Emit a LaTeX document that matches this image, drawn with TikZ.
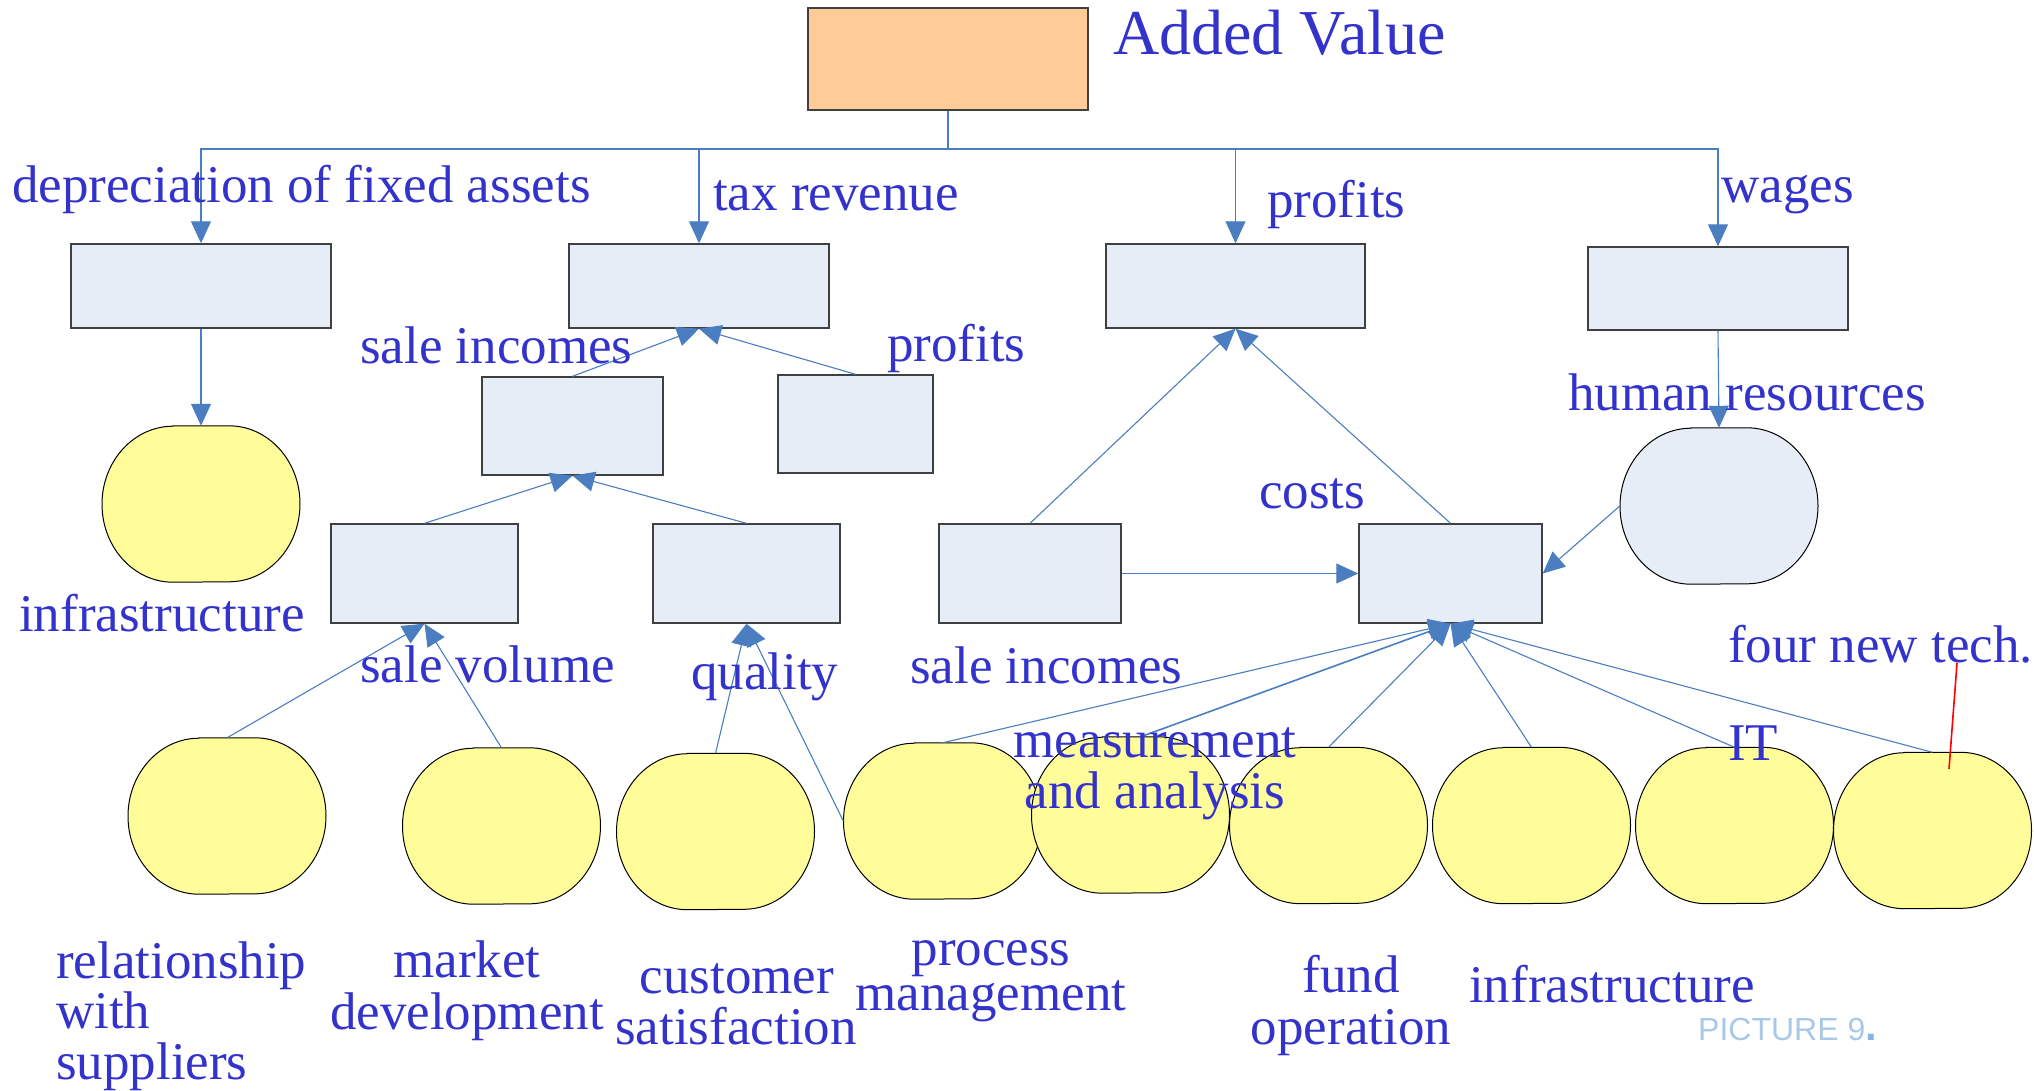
\documentclass[tikz,border=0pt]{standalone}
\usepackage{fontspec}
\setmainfont{Liberation Serif}
\newfontfamily\picfont{Liberation Sans}
\usetikzlibrary{arrows.meta}
\definecolor{tcol}{RGB}{51,51,204}
\definecolor{lnc}{RGB}{74,126,192}
\definecolor{boxc}{RGB}{230,237,247}
\definecolor{orangec}{RGB}{255,204,153}
\definecolor{yelc}{RGB}{255,253,153}
\definecolor{picc}{RGB}{169,200,232}
\definecolor{picd}{RGB}{140,180,226}
\definecolor{edgec}{RGB}{64,64,64}
\newcommand\myblob[4]{%
  \node[blobnode] (#1) at (#2,#3) {};
  \path[blobdraw,fill=#4] ([xshift=-28pt]#1.north) -- ([xshift=28pt]#1.north)
    arc[start angle=90,end angle=-90,x radius=71pt,y radius=78pt]
    -- ([xshift=-28pt]#1.south)
    arc[start angle=270,end angle=90,x radius=71pt,y radius=78pt] -- cycle;
}
\begin{document}
\begin{tikzpicture}[x=1pt,y=-1pt,
  boxnode/.style={draw=edgec,line width=1.4pt,fill=boxc,inner sep=0pt},
  topnode/.style={draw=edgec,line width=1.4pt,fill=orangec,inner sep=0pt},
  blobnode/.style={inner sep=0pt,minimum width=198pt,minimum height=156pt},
  blobdraw/.style={draw=black,line width=1pt},
  conn/.style={draw=lnc,line width=1.1pt},
  arr/.style={conn,-{Triangle[length=22pt,width=20pt,fill=lnc]}},
  lbl/.style={text=tcol,font=\fontsize{53}{53}\selectfont,inner sep=0pt,anchor=base west},
  clbl/.style={lbl,anchor=base}]
\path[use as bounding box] (0,0) rectangle (2034,1090);

% boxes
\node[topnode,minimum width=280pt,minimum height=102pt] (av) at (948,59) {};
\node[boxnode,minimum width=260pt,minimum height=84pt] (b1) at (201,286) {};
\node[boxnode,minimum width=260pt,minimum height=84pt] (b2) at (699,286) {};
\node[boxnode,minimum width=259pt,minimum height=84pt] (b8) at (1235.5,286) {};
\node[boxnode,minimum width=260pt,minimum height=83pt] (b9) at (1718,288.5) {};
\node[boxnode,minimum width=181pt,minimum height=98pt] (b3) at (572.5,426) {};
\node[boxnode,minimum width=155pt,minimum height=98pt] (b4) at (855.5,424) {};
\node[boxnode,minimum width=187pt,minimum height=99pt] (b5) at (424.5,573.5) {};
\node[boxnode,minimum width=187pt,minimum height=99pt] (b6) at (746.5,573.5) {};
\node[boxnode,minimum width=182pt,minimum height=99pt] (b7) at (1030,573.5) {};
\node[boxnode,minimum width=183pt,minimum height=99pt] (b10) at (1450.5,573.5) {};

% blobs
\myblob{inf1}{201}{504}{yelc}
\myblob{hr}{1719}{506}{boxc}
\myblob{e1}{227}{816}{yelc}
\myblob{e2}{501.5}{826}{yelc}
\myblob{e3}{715.5}{831.5}{yelc}
\myblob{e4}{942.5}{821}{yelc}
\myblob{e5}{1130.5}{815}{yelc}
\myblob{e6}{1328.5}{825.5}{yelc}
\myblob{e7}{1531.5}{825.5}{yelc}
\myblob{e8}{1734.5}{825.5}{yelc}
\myblob{e9}{1932.5}{830.5}{yelc}

% connectors
\coordinate (j) at (948,149);
\draw[conn] (av.south) -- (j);
\draw[arr] (j) -| (b1.north);
\draw[arr] (j) -| (b2.north);
\draw[arr] (j) -| (b8.north);
\draw[arr] (j) -| (b9.north);
\draw[arr] (b1.south) -- (inf1.north);
\draw[arr] (b9.south) -- (hr.north);
\draw[arr] (b3.north) -- (b2.south);
\draw[arr] (b4.north) -- (b2.south);
\draw[arr] (b5.north) -- (b3.south);
\draw[arr] (b6.north) -- (b3.south);
\draw[arr] (e1.north) -- (b5.south);
\draw[arr] (e2.north) -- (b5.south);
\draw[arr] (e3.north) -- (b6.south);
\draw[arr] (e4.west) -- (b6.south);
\draw[arr] (b7.north) -- (b8.south);
\draw[arr] (b10.north) -- (b8.south);
\draw[arr] (b7.east) -- (b10.west);
\draw[arr] (hr.west) -- (b10.east);
\draw[arr] (e4.north) -- (b10.south);
\draw[arr,line width=1.6pt] ([xshift=10pt]e5.north) -- (b10.south);
\draw[arr] (e6.north) -- (b10.south);
\draw[arr] (e7.north) -- (b10.south);
\draw[arr] (e8.north) -- (b10.south);
\draw[arr] (e9.north) -- (b10.south);
\coordinate (r1) at (1957,663);
\coordinate (r2) at (1949,769);
\draw[red,line width=1.6pt] (r1) -- (r2);

% labels
\node[lbl,font=\fontsize{64}{64}\selectfont] (tav) at (1113,54) {Added Value};
\node[lbl] (t1) at (12,202) {depreciation of fixed assets};
\node[lbl] (t2) at (713,210) {tax revenue};
\node[lbl] (t3) at (1267,217) {profits};
\node[lbl] (t4) at (1721,202) {wages};
\node[lbl] (t5) at (360,363) {sale incomes};
\node[lbl] (t6) at (887,361) {profits};
\node[lbl] (t7) at (1568,410) {human resources};
\node[lbl] (t8) at (1259,508) {costs};
\node[lbl] (t9) at (19,631) {infrastructure};
\node[lbl] (t10) at (360,682) {sale volume};
\node[lbl] (t11) at (691,689) {quality};
\node[lbl] (t12) at (910,683) {sale incomes};
\node[lbl] (t13) at (1728,662) {four new tech.};
\node[lbl] (t14) at (1728,760) {IT};
\node[clbl] (t15a) at (1155,757) {measurement};
\node[clbl] (t15b) at (1155,808) {and analysis};
\node[lbl] (t16a) at (56,978) {relationship};
\node[lbl] (t16b) at (56,1028) {with};
\node[lbl] (t16c) at (56,1079) {suppliers};
\node[clbl] (t17a) at (467,977) {market};
\node[clbl] (t17b) at (467,1029) {development};
\node[clbl] (t18a) at (737,993) {customer};
\node[clbl] (t18b) at (736,1044) {satisfaction};
\node[clbl] (t19a) at (991,965) {process};
\node[clbl] (t19b) at (991,1010) {management};
\node[clbl] (t20a) at (1351,992) {fund};
\node[clbl] (t20b) at (1351,1044) {operation};
\node[lbl] (t21) at (1469,1002) {infrastructure};
\node[lbl,text=picc,font=\picfont\fontsize{32}{32}\selectfont] (pic) at (1698,1040) {PICTURE 9\textcolor{picd}{\fontsize{42}{42}\selectfont\textbf{.}}};
\end{tikzpicture}
\end{document}
